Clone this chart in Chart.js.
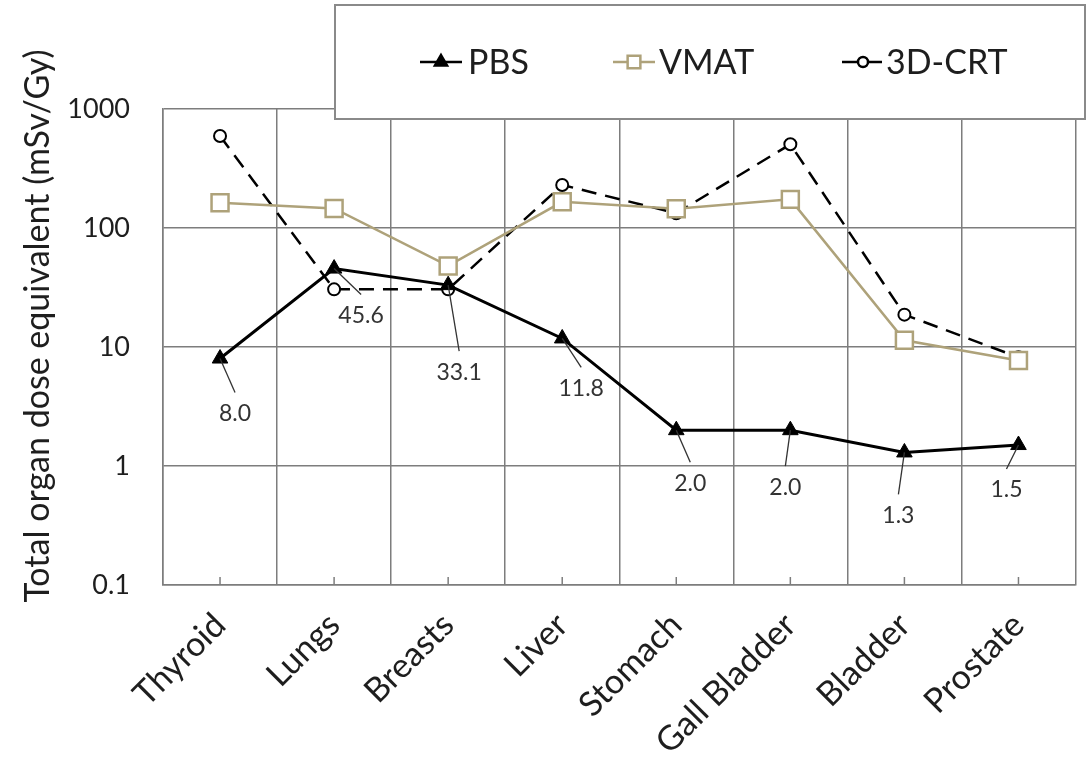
<!DOCTYPE html>
<html>
<head>
<meta charset="utf-8">
<script src="https://cdn.jsdelivr.net/npm/chart.js@4/dist/chart.umd.min.js"></script>
<style>
  html, body { margin: 0; padding: 0; background: #fff; }
  #wrap { width: 1090px; height: 769px; }
</style>
</head>
<body>
<div id="wrap"><canvas id="chart" width="1090" height="769"></canvas></div>
<script>
const categories = ['Thyroid', 'Lungs', 'Breasts', 'Liver', 'Stomach', 'Gall Bladder', 'Bladder', 'Prostate'];
const pbs  = [8.0, 45.6, 33.1, 11.8, 2.0, 2.0, 1.3, 1.5];
const vmat = [163, 146, 48, 166, 145, 174, 11.4, 7.7];
const crt  = [593, 30.5, 30.5, 230, 133, 505, 18.7, 8.2];
const pbsLabels = ['8.0', '45.6', '33.1', '11.8', '2.0', '2.0', '1.3', '1.5'];
const yTicks = [0.1, 1, 10, 100, 1000];
const yTitle = 'Total organ dose equivalent (mSv/Gy)';

const FONT = 'Lato';
const INK = '#1e1e1e';
const GRID = '#7d7d7d';
const VMAT_COLOR = '#aea27a';

// where each PBS value label sits, relative to its point (px)
const labelOffsets = [[15, 55], [27, 47], [11, 87], [19, 50], [14, 53], [-5, 57], [-6, 63], [-12, 45]];

const annotatePlugin = {
  id: 'pbsNotes',
  afterDatasetsDraw(chart) {
    const ctx = chart.ctx;
    const meta = chart.getDatasetMeta(0);
    ctx.save();
    ctx.strokeStyle = '#333';
    ctx.lineWidth = 1.3;
    ctx.fillStyle = '#333';
    ctx.font = `23px ${FONT}`;
    ctx.textAlign = 'center';
    ctx.textBaseline = 'middle';
    meta.data.forEach((pt, i) => {
      const [dx, dy] = labelOffsets[i];
      const tx = pt.x + dx, ty = pt.y + dy;
      ctx.beginPath();
      ctx.moveTo(pt.x, pt.y);
      ctx.lineTo(tx, ty - 21);
      ctx.stroke();
      ctx.fillText(pbsLabels[i], tx, ty);
    });
    // small tick marks at category centres on the bottom axis
    const x = chart.scales.x, bottom = chart.chartArea.bottom;
    ctx.strokeStyle = GRID;
    ctx.lineWidth = 1.5;
    categories.forEach((c, i) => {
      const px = x.getPixelForValue(i);
      ctx.beginPath();
      ctx.moveTo(px, bottom);
      ctx.lineTo(px, bottom - 8);
      ctx.stroke();
    });
    // y axis title, sits a little above the plot centre in the original
    ctx.translate(38, 326);
    ctx.rotate(-Math.PI / 2);
    ctx.fillStyle = INK;
    ctx.font = `34px ${FONT}`;
    ctx.fillText(yTitle, 0, 0);
    ctx.restore();
  }
};

const legendPlugin = {
  id: 'boxLegend',
  afterDraw(chart) {
    const ctx = chart.ctx;
    const { drawPoint } = Chart.helpers;
    ctx.save();
    ctx.fillStyle = '#fff';
    ctx.strokeStyle = '#8a8a8a';
    ctx.lineWidth = 2;
    ctx.fillRect(335, 5, 750, 114);
    ctx.strokeRect(335, 5, 750, 114);

    const y = 62;
    const items = [
      { text: 'PBS', x: 420, tx: 468, color: '#000', style: 'triangle', r: 7, dash: [] },
      { text: 'VMAT', x: 613, tx: 659, color: VMAT_COLOR, style: 'rect', r: 9, dash: [] },
      { text: '3D-CRT', x: 842, tx: 886, color: '#000', style: 'circle', r: 5, dash: [15, 10] },
    ];
    items.forEach(it => {
      ctx.strokeStyle = it.color;
      ctx.lineWidth = 2.5;
      ctx.setLineDash(it.dash);
      ctx.beginPath();
      ctx.moveTo(it.x, y);
      ctx.lineTo(it.x + 42, y);
      ctx.stroke();
      ctx.setLineDash([]);
      ctx.fillStyle = it.style === 'triangle' ? '#000' : '#fff';
      drawPoint(ctx, { pointStyle: it.style, radius: it.r, borderWidth: 2, rotation: 0 }, it.x + 21, y);
      ctx.fillStyle = INK;
      ctx.font = `34px ${FONT}`;
      ctx.textAlign = 'left';
      ctx.textBaseline = 'middle';
      ctx.fillText(it.text, it.tx, y + 1);
    });
    ctx.restore();
  }
};

function draw() {
  new Chart(document.getElementById('chart'), {
    type: 'line',
    data: {
      labels: categories,
      datasets: [
        {
          label: 'PBS',
          data: pbs,
          borderColor: '#000',
          backgroundColor: '#000',
          borderWidth: 3,
          pointStyle: 'triangle',
          pointRadius: 9,
          pointBorderWidth: 1,
          tension: 0,
        },
        {
          label: 'VMAT',
          data: vmat,
          borderColor: VMAT_COLOR,
          backgroundColor: '#fff',
          borderWidth: 2.5,
          pointStyle: 'rect',
          pointRadius: 12,
          pointBorderWidth: 2.5,
          tension: 0,
        },
        {
          label: '3D-CRT',
          data: crt,
          borderColor: '#000',
          backgroundColor: '#fff',
          borderWidth: 2.5,
          borderDash: [15, 9],
          pointStyle: 'circle',
          pointRadius: 6,
          pointBorderWidth: 2,
          tension: 0,
        },
      ],
    },
    options: {
      responsive: false,
      animation: false,
      events: [],
      layout: { padding: { top: 109, right: 7, left: 0, bottom: 0 } },
      plugins: { legend: { display: false }, tooltip: { enabled: false } },
      scales: {
        x: {
          offset: true,
          grid: { offset: true, color: GRID, lineWidth: 1.5, drawTicks: false },
          border: { color: GRID, width: 1.5 },
          ticks: {
            autoSkip: false,
            minRotation: 45,
            maxRotation: 45,
            padding: 20,
            color: INK,
            font: { family: FONT, size: 34 },
          },
          afterFit: s => { s.height = 184; },
        },
        y: {
          type: 'logarithmic',
          min: 0.1,
          max: 1000,
          afterBuildTicks: s => { s.ticks = yTicks.map(v => ({ value: v })); },
          grid: { color: GRID, lineWidth: 1.5, drawTicks: false },
          border: { color: GRID, width: 1.5 },
          ticks: {
            padding: 33,
            color: INK,
            font: { family: FONT, size: 27 },
            callback: v => String(v),
          },
          afterFit: s => { s.width = 163; },
        },
      },
    },
    plugins: [annotatePlugin, legendPlugin],
  });
}

document.fonts.load(`30px ${FONT}`).then(draw, draw);
</script>
</body>
</html>
